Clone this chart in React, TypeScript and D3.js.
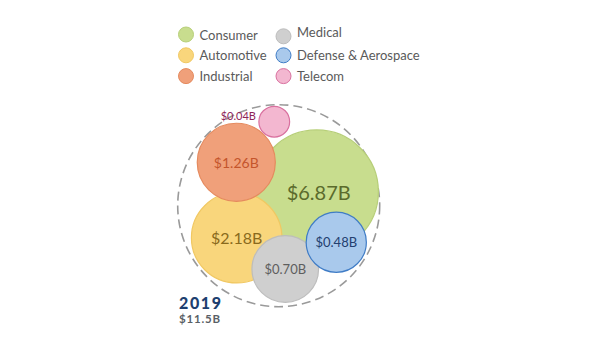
import React, { useEffect, useRef } from "react"
import * as d3 from "d3"

const W = 592
const H = 352
const FONT = "Lato, 'Open Sans', sans-serif"

// segment revenue 2019, $B
const segments = ["Consumer", "Automotive", "Industrial", "Medical", "Defense & Aerospace", "Telecom"]
const revenue = [6.87, 2.18, 1.26, 0.7, 0.48, 0.04]
const totalLabel = "$11.5B"
const yearLabel = "2019"

// hand layout inside the ring, in ring-radius units
const layoutX = [0.376, -0.416, -0.42, 0.065, 0.57, -0.044]
const layoutY = [-0.139, 0.317, -0.43, 0.627, 0.362, -0.832]

const fills = ["#c8dd8e", "#f9d67c", "#f0a07a", "#cfcfcf", "#a9c9ec", "#f3b7d0"]
const strokes = ["#b7cf78", "#f1c862", "#e58a5e", "#bdbdbd", "#3f7cc6", "#d9719f"]
const labelColors = ["#5b6b2c", "#8a6a1c", "#c4552c", "#5e5e5e", "#233f70", "#8e2458"]
const labelSizes = [20, 16, 14, 13, 13, 11]

const RING = { cx: 278.7, cy: 205.7, r: 101 }

export default function App() {
  const svgRef = useRef<SVGSVGElement | null>(null)

  useEffect(() => {
    const svg = d3.select(svgRef.current)
    svg.selectAll("*").remove()

    const x = d3.scaleLinear().domain([-1, 1]).range([RING.cx - RING.r, RING.cx + RING.r])
    const y = d3.scaleLinear().domain([-1, 1]).range([RING.cy - RING.r, RING.cy + RING.r])
    const r = d3.scalePow().exponent(0.27).domain([0, d3.max(revenue) as number]).range([0, 61.7])

    const data = segments.map((name, i) => ({
      name,
      value: revenue[i],
      cx: x(layoutX[i]),
      cy: y(layoutY[i]),
      r: r(revenue[i]),
      i,
    }))

    // legend, two columns of three
    const legend = svg.append("g").attr("font-family", FONT).attr("font-size", 13).attr("fill", "#5a5a5a")
    data.forEach((d, i) => {
      const col = Math.floor(i / 3)
      const row = i % 3
      const lx = col === 0 ? 186 : 283.5
      const ly = 34.5 + row * 20.8 + (col === 1 && row === 0 ? 1.8 : 0)
      legend
        .append("circle")
        .attr("cx", lx)
        .attr("cy", ly)
        .attr("r", 7.5)
        .attr("fill", fills[i])
        .attr("stroke", strokes[i])
        .attr("stroke-width", 1)
      legend
        .append("text")
        .attr("x", lx + 13.5)
        .attr("y", ly + (col === 1 && row === 0 ? -4.5 : 0))
        .attr("dominant-baseline", "central")
        .text(d.name)
    })

    svg
      .append("circle")
      .attr("cx", RING.cx)
      .attr("cy", RING.cy)
      .attr("r", RING.r)
      .attr("fill", "none")
      .attr("stroke", "#9a9a9a")
      .attr("stroke-width", 1.6)
      .attr("stroke-dasharray", "9 5")

    const g = svg.append("g")
    g.selectAll("circle")
      .data(data)
      .join("circle")
      .attr("cx", d => d.cx)
      .attr("cy", d => d.cy)
      .attr("r", d => d.r)
      .attr("fill", d => fills[d.i])
      .attr("stroke", d => strokes[d.i])
      .attr("stroke-width", 1.2)

    g.selectAll("text")
      .data(data)
      .join("text")
      .attr("font-family", FONT)
      .attr("font-size", d => labelSizes[d.i])
      .attr("fill", d => labelColors[d.i])
      .attr("dominant-baseline", "central")
      .attr("text-anchor", d => (d.r < 20 ? "end" : "middle"))
      .attr("x", d => (d.r < 20 ? d.cx - d.r - 3 : d.cx + (d.i === 0 ? 2 : 0)))
      .attr("y", d => (d.r < 20 ? d.cy - 6 : d.cy))
      .text(d => `$${d3.format(".2f")(d.value)}B`)

    svg
      .append("text")
      .attr("x", 179)
      .attr("y", 308.5)
      .attr("font-family", FONT)
      .attr("font-weight", 900)
      .attr("font-size", 16)
      .attr("letter-spacing", 1.6)
      .attr("fill", "#1e3f6f")
      .text(yearLabel)
    svg
      .append("text")
      .attr("x", 179)
      .attr("y", 323)
      .attr("font-family", FONT)
      .attr("font-weight", 700)
      .attr("font-size", 11.5)
      .attr("letter-spacing", 0.8)
      .attr("fill", "#5a5f66")
      .text(totalLabel)
  }, [])

  return (
    <div style={{ position: "absolute", left: 0, top: 0, width: W, height: H, background: "#fff" }}>
      <svg ref={svgRef} width={W} height={H} style={{ display: "block" }} />
    </div>
  )
}
